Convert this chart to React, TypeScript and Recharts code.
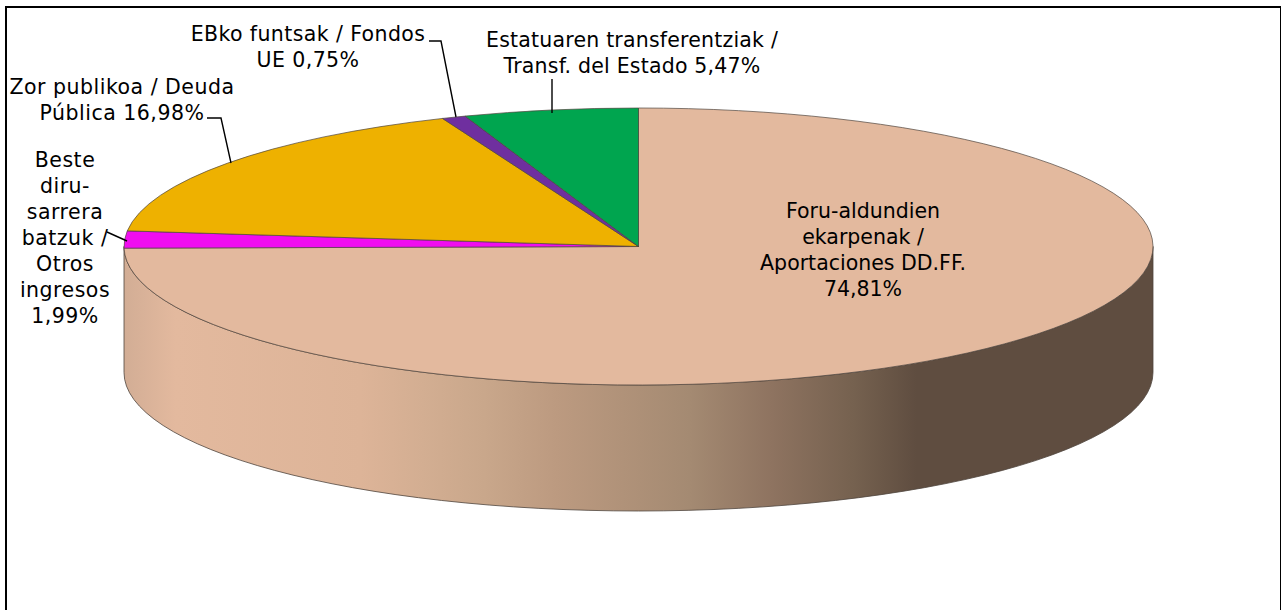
import { Pie, PieChart } from "recharts";

const sliceNames = [
  "Foru-aldundien ekarpenak / Aportaciones DD.FF.",
  "Beste diru-sarrera batzuk / Otros ingresos",
  "Zor publikoa / Deuda Pública",
  "EBko funtsak / Fondos UE",
  "Estatuaren transferentziak / Transf. del Estado",
];
const sliceValues = [74.81, 1.99, 16.98, 0.75, 5.47];
const sliceColors = ["#E3B99E", "#F00DF0", "#EEB100", "#6F2F9F", "#00A54F"];
const labelLines = [
  ["Foru-aldundien", "ekarpenak /", "Aportaciones DD.FF.", "74,81%"],
  ["Beste", "diru-", "sarrera", "batzuk /", "Otros", "ingresos", "1,99%"],
  ["Zor publikoa / Deuda", "Pública 16,98%"],
  ["EBko funtsak / Fondos", "UE 0,75%"],
  ["Estatuaren transferentziak /", "Transf. del Estado 5,47%"],
];

const data = sliceNames.map((name, i) => ({ name, value: sliceValues[i], fill: sliceColors[i] }));

const WIDTH = 1281;
const HEIGHT = 610;
const CX = 638.5;
const CY = 246.5;
const RX = 514.5;
const RY = 138.5;
const DEPTH = 126;
const LINE_H = 26;

// label centre x, first baseline y, letter spacing, leader line
const labelLayout = [
  { x: 863, y: 218, spacing: 0, leader: "" },
  { x: 65, y: 167, spacing: 0.5, leader: "M 107 232 L 127 241" },
  { x: 122, y: 94, spacing: 0.5, leader: "M 207 118 L 221 118 L 231 163" },
  { x: 308, y: 41, spacing: 0.4, leader: "M 429 41 L 441 41 L 456 117" },
  { x: 632, y: 47, spacing: 0.2, leader: "M 552 79 L 552 113" },
];

const px = (a: number) => CX + RX * Math.cos((-a * Math.PI) / 180);
const py = (a: number) => CY + RY * Math.sin((-a * Math.PI) / 180);

// the chart is tilted, so sectors are drawn as ellipse arcs
function TiltedSector(props: any) {
  const { startAngle, endAngle, fill } = props;
  const large = Math.abs(endAngle - startAngle) > 180 ? 1 : 0;
  const d = `M ${CX} ${CY} L ${px(startAngle)} ${py(startAngle)} A ${RX} ${RY} 0 ${large} 1 ${px(endAngle)} ${py(endAngle)} Z`;
  return <path d={d} fill={fill} stroke="#4f453e" strokeWidth={0.7} />;
}

function SliceLabel(props: any) {
  const i = props.index;
  const pos = labelLayout[i];
  return (
    <g>
      {pos.leader && <path d={pos.leader} fill="none" stroke="#000" strokeWidth={1.4} />}
      <text
        x={pos.x}
        y={pos.y}
        textAnchor="middle"
        fontFamily="DejaVu Sans"
        fontSize={20.5}
        letterSpacing={pos.spacing}
        fill="#000"
      >
        {labelLines[i].map((line, k) => (
          <tspan key={k} x={pos.x} dy={k === 0 ? 0 : LINE_H}>
            {line}
          </tspan>
        ))}
      </text>
    </g>
  );
}

export default function App() {
  const rim = `M ${CX - RX} ${CY} A ${RX} ${RY} 0 0 0 ${CX + RX} ${CY} L ${CX + RX} ${CY + DEPTH} A ${RX} ${RY} 0 0 1 ${CX - RX} ${CY + DEPTH} Z`;
  return (
    <div style={{ position: "absolute", left: 0, top: 0, width: WIDTH, height: HEIGHT }}>
      <PieChart width={WIDTH} height={HEIGHT}>
        <defs>
          <linearGradient id="rimGrad" x1="0" y1="0" x2="1" y2="0">
            <stop offset="0%" stopColor="#D2AD95" />
            <stop offset="5%" stopColor="#E3B99E" />
            <stop offset="23%" stopColor="#DDB498" />
            <stop offset="29%" stopColor="#D3AE92" />
            <stop offset="35%" stopColor="#C9A78B" />
            <stop offset="42%" stopColor="#BC9A80" />
            <stop offset="55%" stopColor="#A48A72" />
            <stop offset="63%" stopColor="#8E7360" />
            <stop offset="71%" stopColor="#75614F" />
            <stop offset="77%" stopColor="#5F4D40" />
            <stop offset="100%" stopColor="#5F4D40" />
          </linearGradient>
        </defs>
        <path d="M 6 620 L 6 7 L 1281 7 L 1281 620" fill="none" stroke="#000" strokeWidth={2} />
        <path d={rim} fill="url(#rimGrad)" stroke="#4f453e" strokeWidth={0.8} />
        <Pie
          data={data}
          dataKey="value"
          cx={CX}
          cy={CY}
          outerRadius={RX}
          startAngle={90}
          endAngle={-270}
          shape={TiltedSector}
          label={SliceLabel}
          labelLine={false}
          isAnimationActive={false}
        />
      </PieChart>
    </div>
  );
}
